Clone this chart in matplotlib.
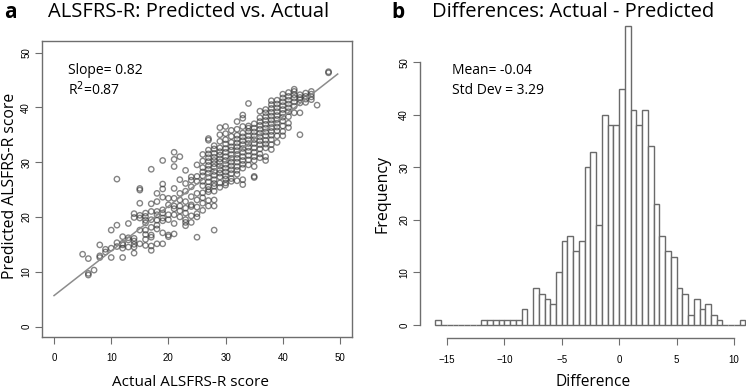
import matplotlib
matplotlib.use("Agg")
import matplotlib.pyplot as plt
import numpy as np

# panel a: predicted score for each actual ALSFRS-R score
actual_scores = [5, 6, 7, 8, 9, 10, 11, 12, 13, 14, 15, 16, 17, 18, 19, 20, 21, 22, 23, 24,
                 25, 26, 27, 28, 29, 30, 31, 32, 33, 34, 35, 36, 37, 38, 39, 40, 41, 42, 43,
                 44, 45, 46, 48]
predicted_scores = [
    [13.2],
    [12.4, 9.7, 9.4],
    [10.3],
    [14.9, 12.9, 12.6],
    [14.1, 13.6],
    [17.6, 14.3, 12.6],
    [26.9, 18.5, 15.3, 14.6],
    [16.4, 15.2, 14.9, 14.3, 12.6],
    [18.8, 16.2, 15.8, 14.5],
    [20.6, 19.9, 16.1, 15.6, 15.0, 14.5, 13.4],
    [25.2, 24.9, 22.5, 20.3, 19.8, 17.6, 15.1],
    [20.7, 20.1, 19.4, 18.9, 17.6, 16.8, 15.9, 14.8],
    [28.7, 22.4, 21.0, 19.5, 18.1, 16.7, 16.3, 14.7, 13.9],
    [24.3, 22.8, 21.0, 20.4, 19.4, 18.5, 17.8, 15.1],
    [30.3, 26.0, 25.1, 23.6, 21.3, 20.7, 19.8, 19.3, 17.1, 15.1],
    [23.4, 22.2, 20.4, 19.5, 16.7, 16.4],
    [31.8, 30.5, 29.2, 25.2, 23.4, 22.0, 21.5, 20.4, 18.8, 16.9],
    [31.0, 26.8, 24.3, 23.1, 22.0, 21.1, 20.0],
    [28.5, 26.1, 24.7, 22.8, 21.6, 20.7, 19.5, 19.0, 18.4],
    [27.3, 26.7, 25.5, 23.7, 22.2, 21.9, 20.2, 19.0],
    [29.5, 27.4, 26.5, 24.3, 23.1, 21.8, 20.6, 20.0, 16.3],
    [31.4, 30.2, 29.0, 28.2, 27.5, 26.5, 25.7, 24.4, 23.5, 22.5, 21.2],
    [34.3, 34.0, 32.2, 31.5, 30.8, 30.1, 29.4, 28.7, 28.0, 27.2, 26.4, 25.5, 25.0, 24.6, 23.0, 22.0],
    [33.0, 32.4, 31.6, 30.9, 30.3, 29.7, 29.1, 28.3, 27.6, 26.8, 26.1, 25.6, 24.7, 23.1, 22.0, 17.6],
    [36.3, 35.0, 33.8, 32.6, 31.9, 31.3, 30.6, 30.0, 29.3, 28.6, 28.0, 27.3, 26.2, 25.4],
    [36.5, 35.2, 34.1, 33.3, 32.5, 31.8, 31.0, 30.3, 29.6, 28.9, 28.2, 27.5, 26.9, 26.2, 25.8],
    [35.8, 34.7, 33.6, 32.8, 32.2, 31.4, 30.7, 30.0, 29.3, 28.6, 27.9, 27.0, 26.5],
    [37.4, 36.0, 34.9, 34.2, 33.5, 32.8, 32.1, 31.4, 30.7, 30.0, 29.2, 28.5, 27.8, 26.6],
    [38.6, 38.0, 36.5, 35.3, 34.6, 33.9, 33.2, 32.5, 31.8, 31.0, 30.3, 29.6, 28.9, 26.8, 25.9],
    [40.7, 36.6, 36.2, 35.6, 34.8, 34.1, 33.4, 32.7, 32.0, 31.2, 30.4, 29.5],
    [37.0, 36.2, 35.5, 34.8, 34.1, 33.4, 32.6, 31.8, 31.0, 30.3, 29.2, 27.4, 27.2],
    [39.3, 38.1, 37.4, 36.7, 36.0, 35.3, 34.6, 33.9, 33.2, 32.4, 31.5, 30.8],
    [39.6, 39.0, 38.3, 37.6, 36.9, 36.2, 35.5, 34.8, 34.0, 33.3, 32.6, 31.0, 30.3],
    [41.2, 40.5, 39.8, 39.1, 38.4, 37.7, 37.0, 36.3, 35.6, 34.9, 34.1, 33.2, 32.3],
    [41.3, 40.6, 39.9, 39.2, 38.5, 37.8, 37.1, 36.4, 35.7, 34.8, 33.6],
    [42.4, 41.7, 41.0, 40.3, 39.6, 38.9, 38.2, 37.5, 36.6, 35.6, 34.8],
    [42.7, 42.0, 41.3, 40.6, 39.9, 39.2, 38.3, 37.1, 36.3],
    [43.3, 42.9, 42.3, 41.7, 41.0, 40.2, 39.0],
    [42.3, 41.8, 41.4, 40.8, 39.0, 35.0],
    [42.6, 42.0, 41.5, 40.9],
    [42.9, 42.4, 41.9, 41.4],
    [40.4],
    [46.5, 46.3],
]
fit_slope = 0.815
fit_intercept = 5.65
fit_range = [0, 49.6]

# panel b: histogram of differences, 0.5 wide bins starting at -16
bin_start = -16
bin_width = 0.5
diff_counts = [1, 0, 0, 0, 0, 0, 0, 0,
               1, 1, 1, 1, 1, 1, 1, 3, 0,
               7, 6, 5, 4, 10, 16, 17, 14, 16, 30, 33, 19, 40, 38, 38,
               45, 57, 41, 38, 41, 34, 23, 17, 14, 13, 7, 6, 2, 5, 3, 4, 2, 1,
               0, 0, 0, 1]

W, H = 746, 390
fig = plt.figure(figsize=(W / 100, H / 100), dpi=100)

def px_axes(left, top, right, bottom):
    return fig.add_axes([left / W, 1 - bottom / H, (right - left) / W, (bottom - top) / H])

def px_text(x, y, s, **kw):
    kw.setdefault("family", "Open Sans")
    kw.setdefault("va", "center")
    fig.text(x / W, 1 - y / H, s, **kw)

def style_ticks(ax):
    ax.tick_params(direction="out", length=5, width=0.8, color=gray, labelsize=7)
    ax.tick_params(axis="x", pad=7)
    ax.tick_params(axis="y", pad=3)
    for lab in ax.get_xticklabels() + ax.get_yticklabels():
        lab.set_family("Liberation Sans")
    for lab in ax.get_yticklabels():
        lab.set_rotation(90)
        lab.set_va("center")

gray = "#6e6e6e"

# ---- panel a
ax1 = px_axes(42.3, 41, 351.7, 336.7)
xs = []
ys = []
for a, preds in zip(actual_scores, predicted_scores):
    for p in preds:
        xs.append(a)
        ys.append(p)
ax1.scatter(xs, ys, s=15, facecolors="none", edgecolors="#333333", linewidths=1.0, alpha=0.6)
lx = np.array(fit_range)
ax1.plot(lx, fit_intercept + fit_slope * lx, color="#8c8c8c", lw=1.1)
ax1.set_xlim(-2.05, 52.05)
ax1.set_ylim(-1.85, 52.1)
ax1.set_xticks(range(0, 51, 10))
ax1.set_yticks(range(0, 51, 10))
for sp in ax1.spines.values():
    sp.set_color(gray)
    sp.set_linewidth(1.0)
style_ticks(ax1)

px_text(68, 71, "Slope= 0.82", fontsize=10)
px_text(68, 90, "R$^2$=0.87", fontsize=10)
px_text(191, 382, "Actual ALSFRS-R score", fontsize=11, ha="center")
px_text(10, 186, "Predicted ALSFRS-R score", fontsize=11.3, ha="center", rotation=90)
px_text(189, 12, "ALSFRS-R: Predicted vs. Actual", fontsize=14.5, ha="center")
px_text(10, 12, "a", fontsize=15, weight="bold", ha="center")

# ---- panel b
ax2 = px_axes(420.3, 13.5, 746, 338)
lefts = bin_start + bin_width * np.arange(len(diff_counts))
ax2.bar(lefts, diff_counts, width=bin_width, align="edge", color="white",
        edgecolor="#6a6a6a", linewidth=1.0)
ax2.set_xlim(-17.32, 11.05)
ax2.set_ylim(-2.47, 59.3)
ax2.spines["top"].set_visible(False)
ax2.spines["right"].set_visible(False)
ax2.spines["left"].set_bounds(0, 50)
ax2.spines["bottom"].set_bounds(-15, 10)
for sp in ("left", "bottom"):
    ax2.spines[sp].set_color(gray)
    ax2.spines[sp].set_linewidth(1.0)
ax2.set_xticks([-15, -10, -5, 0, 5, 10])
ax2.set_yticks(range(0, 51, 10))
style_ticks(ax2)

px_text(452, 70, "Mean= -0.04", fontsize=10)
px_text(452, 90, "Std Dev = 3.29", fontsize=10)
px_text(593, 382, "Difference", fontsize=11.2, ha="center")
px_text(383, 194, "Frequency", fontsize=11.5, ha="center", rotation=90)
px_text(573, 12, "Differences: Actual - Predicted", fontsize=14.5, ha="center")
px_text(398, 12, "b", fontsize=15, weight="bold", ha="center")

fig.savefig("out.png", dpi=100)
